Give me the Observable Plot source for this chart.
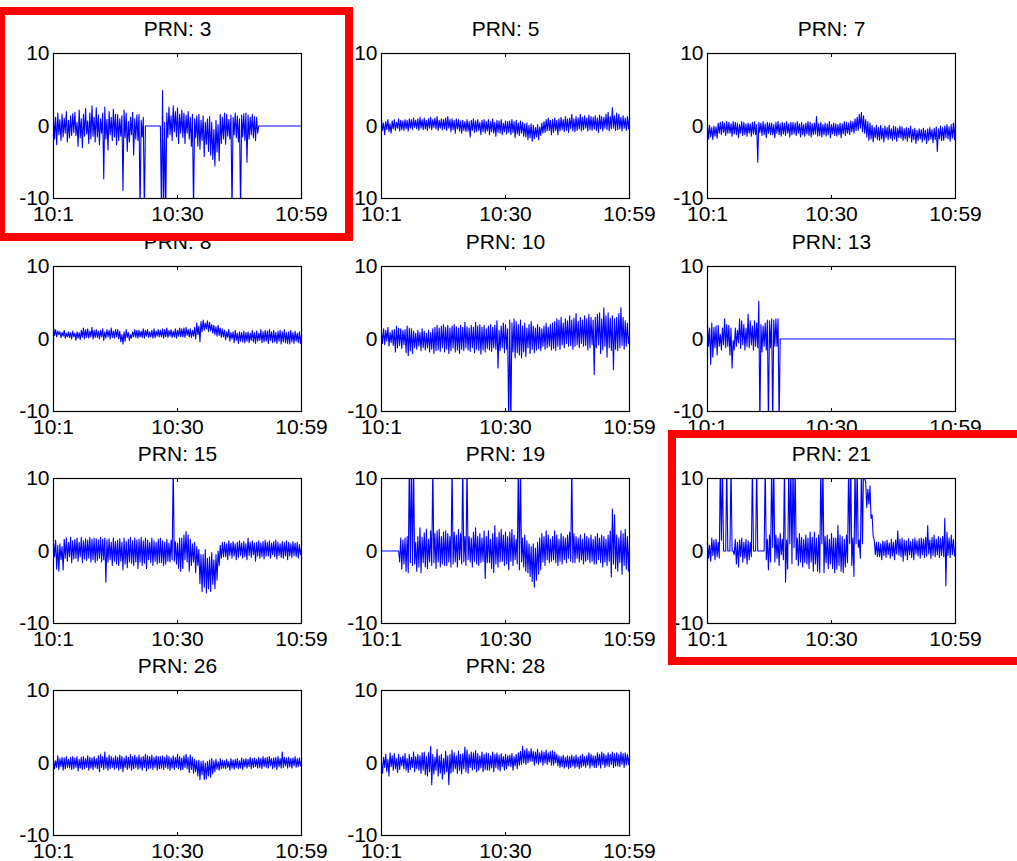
<!DOCTYPE html>
<html><head><meta charset="utf-8">
<script src="https://cdn.jsdelivr.net/npm/d3@7"></script>
<script src="https://cdn.jsdelivr.net/npm/@observablehq/plot@0.6"></script>
<style>
html,body{margin:0;padding:0;background:#fff;}
#page{position:relative;width:1017px;height:861px;overflow:hidden;background:#fff;font-family:"Liberation Sans",Arial,sans-serif;}
.panel{position:absolute;}
.hl{position:absolute;border:8.5px solid #ff0000;box-sizing:border-box;z-index:10;}
</style></head><body><div id="page"></div>
<script>
// ---- data ----
// Each panel: noise peaks (hi, at minute 1 + 0.5*i) and troughs (lo, at minute 1.25 + 0.5*i).
const prns = [3, 5, 7, 8, 10, 13, 15, 19, 21, 26, 28];
const highlighted = [3, 21];
const xTicks = [1, 30, 59];
const xTickLabels = ["10:1", "10:30", "10:59"];
const yTicks = [-10, 0, 10];
const hiStart = 1, loStart = 1.25, step = 0.5;

const prn3Hi = [
 1.5,1.2,1.8,0.9,1.6,1.1,2.0,0.8,1.4,1.7,
 1.9,0.5,2.2,1.0,1.6,2.4,0.7,1.8,2.8,1.2,
 2.5,1.5,1.0,1.8,2.6,0.9,2.0,1.2,2.3,1.6,
 1.6,1.0,1.4,2.2,1.8,0.6,1.2,1.9,1.0,1.5,
 1.6,0.8,1.2,0,0,0,0,0,0,0,
 0,4.9,0.5,1.8,2.6,1.4,2.8,2.0,2.5,1.6,
 2.2,1.8,1.5,2.0,1.2,1.6,1.0,1.4,1.6,0.8,
 1.4,0.5,1.0,1.3,0.5,-0.5,0.8,0.2,1.6,1.2,
 1.8,1.6,0.9,1.5,1.2,1.8,1.4,1.0,1.5,1.7,
 1.8,1.5,1.2,1.6,1.3,1.2,0,0,0,0,
 0,0,0,0,0,0,0,0,0,0,
 0,0,0,0,0,0,0];
const prn3Lo = [
 -1.8,-2.6,-1.2,-2.0,-1.5,-1.0,-2.2,-1.6,-1.3,-0.9,
 -1.3,-2.8,-1.6,-3.0,-1.4,-1.1,-2.4,-1.8,-1.4,-2.2,
 -1.5,-2.6,-1.0,-7.3,-1.8,-3.3,-1.2,-2.0,-1.5,-2.6,
 -2.0,-1.4,-8.9,-1.6,-3.5,-2.2,-1.2,-4.0,-1.8,-2.0,
 -12,-1.5,-12,0,0,0,0,0,0,0,
 -12,-12,-12,-1.6,-1.2,-2.0,-0.8,-1.5,-2.4,-1.0,
 -1.6,-2.4,-1.0,-1.8,-2.8,-12,-1.6,-2.8,-3.2,-2.0,
 -4.2,-2.5,-3.5,-4.0,-4.6,-5.5,-3.6,-4.8,-2.4,-1.8,
 -2.5,-1.4,-1.8,-12,-1.2,-1.6,-2.2,-12,-1.5,-2.0,
 -5.0,-1.8,-1.2,-1.6,-2.0,-1.0,0,0,0,0,
 0,0,0,0,0,0,0,0,0,0,
 0,0,0,0,0,0];

const prn5Hi = [
 0.8,0.4,0.6,0.9,0.3,0.7,0.9,0.5,1.0,0.8,
 0.7,0.9,0.8,1.0,0.9,1.1,0.8,1.0,1.2,0.9,
 1.1,0.8,1.0,1.2,0.9,1.1,1.3,0.8,1.0,0.9,
 1.1,1.3,0.9,1.0,0.8,1.0,0.9,0.7,0.8,0.6,
 0.9,0.6,0.8,1.0,0.7,0.9,0.5,0.8,0.9,0.6,
 0.9,0.6,1.0,0.5,0.8,0.7,0.9,0.4,0.7,0.6,
 0.7,0.9,0.6,0.8,0.4,0.7,0.5,0.3,0.4,0.1,
 0.3,0.1,-0.2,0.2,-0.1,0.4,0.6,0.9,1.1,0.8,
 0.9,1.1,0.8,1.0,1.2,0.9,1.3,1.0,1.1,1.6,
 1.0,1.3,1.1,1.6,1.2,1.4,1.1,1.5,1.3,1.2,
 1.4,1.1,1.5,1.3,1.2,1.6,1.9,1.3,2.5,1.4,
 1.8,1.6,1.2,1.4,1.1,1.3,1.2];
const prn5Lo = [
 -0.6,-1.2,-0.5,-0.8,-1.0,-0.4,-0.6,-0.3,-0.7,-0.5,
 -0.6,-0.4,-0.7,-0.3,-0.5,-0.2,-0.4,-0.6,-0.3,-0.5,
 -0.4,-0.6,-0.3,-0.5,-0.2,-0.4,-0.6,-0.3,-0.5,-0.4,
 -0.6,-0.3,-0.8,-0.5,-1.0,-0.4,-0.7,-1.0,-0.6,-0.8,
 -0.7,-1.5,-0.6,-0.9,-0.8,-0.6,-1.2,-0.8,-1.0,-0.7,
 -1.2,-0.8,-1.0,-1.4,-0.9,-1.0,-1.2,-0.8,-1.1,-0.9,
 -1.2,-0.9,-1.6,-1.1,-1.3,-1.0,-1.4,-1.5,-1.9,-1.6,
 -2.1,-1.8,-1.5,-1.9,-1.3,-1.0,-0.9,-0.7,-0.6,-1.2,
 -0.9,-0.6,-1.2,-0.7,-0.5,-0.8,-0.6,-0.9,-0.4,-0.7,
 -0.8,-0.6,-0.4,-0.7,-0.5,-0.3,-0.7,-0.5,-0.6,-0.4,
 -0.6,-0.9,-0.4,-0.7,-0.3,-0.5,-0.7,-0.4,-0.3,-0.6,
 -0.5,-0.4,-0.7,-0.3,-0.6,-0.4];

const prn7Hi = [
 0.2,0.1,-0.2,0.0,-0.1,0.4,0.5,0.6,0.4,0.6,
 0.5,0.3,0.6,0.5,0.4,0.2,0.6,0.5,0.3,0.4,
 0.3,0.5,0.6,0.2,0.5,0.4,0.6,0.3,0.5,0.4,
 0.4,0.2,0.5,0.6,0.3,0.5,0.4,0.6,0.3,0.5,
 0.5,0.4,0.6,0.3,0.5,0.2,0.4,0.6,0.5,0.3,
 0.4,1.3,0.3,0.5,0.2,0.4,0.3,0.6,0.2,0.4,
 0.3,0.2,0.4,0.3,0.6,0.5,0.4,0.7,0.6,1.0,
 1.2,1.6,1.9,1.4,0.9,0.6,0.4,0.1,-0.2,0.1,
 -0.2,0.1,-0.3,0.0,-0.2,0.1,-0.4,0.0,-0.1,-0.3,
 0.0,-0.1,-0.4,-0.2,-0.3,0.0,-0.5,-0.3,-0.6,-0.4,
 -0.5,-0.3,-0.6,-0.4,-0.2,-0.5,-0.3,-0.1,-0.4,0.0,
 -0.2,0.0,0.2,-0.1,0.2,0.4,0.8];
const prn7Lo = [
 -1.8,-1.5,-1.9,-1.4,-1.7,-1.0,-1.2,-0.9,-1.3,-1.0,
 -1.0,-1.4,-1.1,-1.2,-1.6,-1.0,-1.3,-1.2,-1.4,-1.0,
 -1.4,-1.1,-1.2,-5.0,-0.9,-1.3,-1.2,-1.6,-1.0,-1.2,
 -1.2,-1.6,-1.0,-1.2,-1.4,-1.1,-1.3,-1.0,-1.5,-1.2,
 -1.1,-1.3,-1.0,-1.5,-1.2,-1.4,-1.1,-1.3,-1.5,-1.2,
 -1.1,-1.4,-1.3,-1.5,-1.2,-1.4,-1.2,-1.6,-1.1,-1.3,
 -1.4,-1.2,-1.6,-1.1,-1.3,-1.0,-1.2,-0.8,-1.0,-0.6,
 -0.6,-0.3,-0.8,-1.0,-1.5,-2.0,-1.8,-2.2,-1.6,-1.9,
 -2.0,-1.8,-2.2,-1.6,-1.9,-1.7,-2.0,-1.8,-2.1,-1.6,
 -1.7,-2.0,-1.8,-2.1,-1.6,-2.2,-1.9,-2.4,-2.0,-1.8,
 -2.2,-1.9,-2.4,-2.0,-1.8,-2.3,-1.9,-3.5,-1.8,-2.0,
 -2.0,-1.6,-1.8,-2.1,-1.7,-1.9];

const prn8Hi = [
 1.6,1.3,1.1,1.0,0.9,1.2,0.8,1.0,0.9,1.1,
 0.8,1.0,0.9,1.2,1.5,1.3,1.4,1.1,1.6,1.2,
 1.3,1.1,1.2,1.4,1.0,1.3,1.2,1.5,1.1,1.3,
 1.3,1.1,0.6,1.0,1.3,0.9,0.6,1.0,1.3,1.2,
 1.2,1.1,1.4,1.2,1.3,1.0,1.2,1.4,1.1,1.3,
 1.2,1.4,1.3,1.5,1.2,1.3,1.1,1.4,1.2,1.5,
 1.4,1.5,1.6,1.3,1.4,1.2,1.6,2.2,1.8,2.4,
 2.6,2.2,2.5,2.3,2.0,1.9,1.7,1.9,1.5,1.4,
 1.2,1.0,1.3,0.9,1.0,1.2,0.8,1.0,0.9,1.1,
 0.9,1.0,0.8,1.2,0.9,1.1,0.8,1.3,1.0,1.2,
 1.1,1.3,1.0,1.2,0.9,1.1,1.2,1.0,1.3,0.9,
 1.0,1.2,0.9,1.1,0.8,1.0,0.6];
const prn8Lo = [
 0.5,0.3,0.6,0.2,0.4,0.1,0.3,0.2,0.0,0.3,
 -0.2,0.1,-0.1,0.2,0.0,0.2,0.1,0.3,0.0,0.2,
 0.2,0.0,0.3,-0.2,0.1,0.3,0.0,0.2,0.1,0.3,
 0.0,-0.4,-0.7,-0.3,0.2,-0.2,0.1,0.3,0.2,0.1,
 0.3,0.2,0.1,0.4,0.2,0.3,0.1,0.2,0.4,0.3,
 0.3,0.1,0.3,0.2,0.4,0.2,0.3,0.1,0.4,0.3,
 0.3,0.2,0.5,0.3,0.2,0.4,0.0,0.6,-0.4,1.0,
 1.2,1.4,1.0,1.1,0.8,0.6,0.4,0.5,0.2,0.3,
 -0.1,0.2,-0.3,0.0,-0.5,-0.2,-0.6,-0.3,-0.4,-0.5,
 -0.3,-0.5,-0.2,-0.4,-0.6,-0.3,-0.2,-0.5,-0.4,-0.3,
 -0.6,-0.2,-0.5,-0.4,-0.6,-0.3,-0.7,-0.4,-0.5,-0.6,
 -0.7,-0.4,-0.6,-0.3,-0.5,-0.6];

const prn10Hi = [
 1.0,1.4,1.2,1.6,0.9,1.2,1.3,1.8,1.5,1.4,
 1.2,1.3,1.8,1.5,1.4,1.1,0.8,1.2,0.9,1.4,
 1.1,0.8,1.2,0.9,1.4,1.6,1.9,1.5,1.8,2.0,
 1.6,1.9,1.5,1.8,2.0,1.7,1.5,1.9,1.6,2.3,
 1.7,1.5,1.9,1.6,2.3,1.8,2.0,1.6,1.9,1.4,
 1.8,2.0,1.6,1.9,2.5,1.2,1.8,2.2,2.0,1.4,
 2.6,2.2,2.8,2.4,2.0,2.6,1.8,2.2,1.5,2.0,
 2.4,1.8,1.5,2.0,1.6,1.4,1.8,2.2,1.6,2.0,
 2.2,2.4,2.8,2.6,3.0,2.2,2.8,2.5,3.2,2.6,
 2.9,3.5,2.4,3.0,2.6,3.2,2.8,3.4,3.0,2.6,
 3.0,3.4,3.6,2.8,4.3,3.2,3.6,2.9,3.2,2.8,
 3.0,3.5,4.3,3.0,2.5,2.2,0.5];
const prn10Lo = [
 -0.6,-0.8,-0.3,-1.0,-0.5,-0.9,-1.8,-1.2,-0.9,-1.3,
 -0.8,-1.9,-2.3,-1.6,-2.0,-1.2,-1.4,-1.0,-1.6,-1.2,
 -1.5,-1.2,-1.8,-1.4,-2.0,-1.6,-1.5,-1.7,-1.2,-1.8,
 -1.4,-2.0,-1.6,-1.2,-1.8,-1.5,-2.0,-1.4,-1.6,-1.2,
 -1.5,-1.7,-1.2,-1.9,-1.4,-1.6,-2.1,-1.5,-1.8,-1.3,
 -1.5,-1.7,-1.2,-1.4,-4.0,-1.6,-1.2,-1.9,-1.4,-12,
 -12,-1.8,-2.6,-1.9,-2.2,-2.6,-1.8,-2.4,-1.2,-2.0,
 -1.4,-1.9,-1.5,-1.3,-1.6,-1.0,-1.4,-1.2,-1.0,-1.5,
 -1.3,-1.6,-1.0,-1.4,-0.8,-1.2,-0.6,-1.0,-0.9,-1.4,
 -1.0,-0.8,-1.2,-0.6,-1.0,-0.9,-1.5,-1.2,-0.8,-4.9,
 -1.2,-0.8,-2.0,-1.5,-1.0,-2.5,-1.2,-1.6,-4.2,-1.4,
 -1.6,-1.2,-0.9,-1.4,-1.0,-0.6];

const prn13Hi = [
 2.0,1.5,2.2,1.6,1.8,1.9,0.6,1.5,2.8,2.0,
 1.9,1.5,-0.2,1.5,1.2,2.8,2.5,2.0,1.5,3.4,
 2.5,1.8,2.5,2.2,5.2,2.0,1.8,2.2,2.6,2.5,
 2.8,2.6,2.8,2.8,0,0,0,0,0,0,
 0,0,0,0,0,0,0,0,0,0,
 0,0,0,0,0,0,0,0,0,0,
 0,0,0,0,0,0,0,0,0,0,
 0,0,0,0,0,0,0,0,0,0,
 0,0,0,0,0,0,0,0,0,0,
 0,0,0,0,0,0,0,0,0,0,
 0,0,0,0,0,0,0,0,0,0,
 0,0,0,0,0,0,0];
const prn13Lo = [
 -1.0,-3.5,-2.5,-1.2,-2.2,-1.0,-1.5,-0.8,-1.2,-1.0,
 -2.2,-4.0,-1.5,-1.0,-0.5,-1.3,-0.8,-1.5,-1.0,-1.2,
 -0.8,-1.5,-1.0,-1.2,-12,-1.8,-1.0,-1.5,-12,-1.2,
 -12,-1.0,-1.0,-12,0,0,0,0,0,0,
 0,0,0,0,0,0,0,0,0,0,
 0,0,0,0,0,0,0,0,0,0,
 0,0,0,0,0,0,0,0,0,0,
 0,0,0,0,0,0,0,0,0,0,
 0,0,0,0,0,0,0,0,0,0,
 0,0,0,0,0,0,0,0,0,0,
 0,0,0,0,0,0,0,0,0,0,
 0,0,0,0,0,0];

const prn15Hi = [
 1.2,1.5,0.8,1.0,0.6,1.6,1.8,1.2,1.9,1.4,
 1.6,1.8,1.2,1.9,1.4,1.7,1.5,1.9,1.6,1.8,
 1.7,1.5,1.9,1.6,1.8,1.5,1.7,1.2,1.8,1.3,
 1.5,1.7,1.2,1.8,1.3,1.6,1.9,1.4,1.8,1.5,
 1.6,1.9,1.4,1.8,1.5,1.2,1.8,1.4,1.2,1.6,
 1.8,1.4,1.2,1.6,1.1,1.5,12,1.3,1.1,1.8,
 1.8,2.2,2.7,2.2,1.6,1.0,1.2,0.6,0.2,-0.5,
 -0.5,0.2,-1.0,-0.8,-0.2,-1.2,-0.5,0.0,0.8,1.2,
 1.2,1.0,1.4,1.1,1.3,1.0,1.2,1.4,1.1,1.3,
 1.0,1.8,1.2,1.4,1.1,1.2,1.4,1.1,1.3,1.5,
 1.2,1.4,1.1,1.3,1.5,1.2,1.0,1.3,1.2,1.4,
 1.2,1.0,1.3,1.1,1.2,0.9,0.4];
const prn15Lo = [
 -0.8,-2.5,-2.8,-1.2,-2.6,-1.0,-1.4,-0.8,-1.6,-1.1,
 -1.0,-1.4,-0.8,-1.6,-1.1,-1.3,-1.0,-1.5,-1.2,-1.6,
 -1.3,-1.0,-1.5,-1.2,-4.3,-1.5,-1.2,-2.0,-1.4,-1.8,
 -2.0,-1.4,-2.6,-1.8,-2.3,-1.5,-1.7,-2.0,-1.5,-2.4,
 -1.5,-2.0,-1.7,-2.4,-1.2,-1.6,-2.0,-1.4,-1.8,-1.6,
 -1.6,-2.0,-1.8,-1.4,-1.5,-1.2,-1.4,-1.8,-2.4,-2.8,
 -2.4,-1.2,-1.5,-2.8,-2.0,-1.5,-3.0,-2.0,-4.5,-5.6,
 -5.0,-5.8,-5.2,-5.6,-4.6,-5.2,-4.0,-2.0,-1.0,-0.8,
 -0.8,-1.2,-0.6,-1.0,-0.7,-1.2,-0.9,-0.6,-1.0,-0.8,
 -1.2,-0.6,-0.9,-0.5,-1.4,-0.7,-1.0,-0.8,-1.1,-0.7,
 -0.7,-1.0,-0.5,-0.8,-1.1,-0.6,-0.9,-1.0,-0.7,-1.2,
 -0.7,-0.9,-0.6,-0.8,-1.0,-0.5];

const prn19Hi = [
 0,0,0,0,0,0,0,0,0,1.8,
 1.5,1.8,2.0,12,12,12,1.2,2.0,3.2,1.9,
 2.5,3.0,1.6,2.8,12,2.4,2.8,3.0,2.0,2.6,
 2.8,2.4,2.0,12,2.6,2.2,3.0,2.4,12,2.0,
 12,2.0,1.8,2.6,3.2,2.0,2.4,1.8,2.8,2.0,
 2.8,1.6,2.4,3.5,1.9,2.6,3.0,2.2,2.6,2.0,
 2.6,3.0,2.2,1.6,12,12,1.8,2.2,1.4,1.0,
 0.6,1.0,0.4,1.2,1.8,2.4,2.0,2.8,2.2,1.6,
 2.0,2.8,2.2,1.6,2.4,2.0,1.8,2.2,2.6,12,
 2.4,2.0,1.8,2.2,1.6,2.4,2.0,1.8,2.2,1.6,
 2.0,2.4,1.8,2.2,2.0,1.6,2.2,2.8,5.8,5.0,
 2.2,1.8,2.8,2.4,3.0,2.0,1.5];
const prn19Lo = [
 0,0,0,0,0,0,0,0,-1.5,-2.5,
 -1.8,-2.8,-3.0,-1.6,-2.0,-1.8,-2.8,-2.2,-3.0,-1.6,
 -2.2,-2.4,-1.5,-2.0,-1.6,-2.4,-1.5,-2.2,-1.8,-2.0,
 -2.0,-1.5,-2.2,-1.8,-1.5,-2.2,-1.2,-1.8,-1.5,-2.0,
 -1.2,-1.5,-2.2,-1.4,-1.8,-2.0,-1.6,-1.4,-3.8,-1.6,
 -1.6,-2.4,-3.0,-1.8,-2.2,-1.5,-1.4,-2.0,-1.8,-2.6,
 -1.4,-2.0,-1.2,-1.8,-2.6,-1.5,-2.2,-2.8,-3.0,-3.5,
 -4.2,-5.0,-4.0,-3.2,-2.6,-1.5,-2.0,-1.2,-1.6,-1.4,
 -1.2,-1.6,-2.0,-1.4,-1.8,-1.2,-1.6,-1.0,-1.4,-1.6,
 -1.6,-1.0,-1.5,-1.2,-1.8,-1.4,-1.2,-1.6,-1.4,-1.8,
 -1.8,-1.2,-1.6,-2.2,-1.5,-2.0,-1.4,-3.6,-1.8,-2.4,
 -2.8,-1.6,-3.2,-2.0,-2.5,-2.8];

const prn21Hi = [
 1.2,0.8,1.8,1.5,1.6,1.2,12,12,0,12,
 0,12,0,1.6,1.2,1.5,1.8,1.2,1.6,1.4,
 1.2,12,0,12,0,0,0,12,1.6,2.2,
 12,12,2.2,1.8,2.4,1.6,12,1.5,12,12,
 12,12,1.8,2.4,1.9,1.6,2.2,1.8,2.6,1.9,
 2.6,1.8,2.2,12,12,2.0,2.2,1.6,2.4,1.8,
 1.8,3.5,2.2,2.0,1.6,2.2,12,12,1.8,12,
 12,1.5,12,12,9.5,8.5,9.0,5.0,1.5,1.2,
 1.2,1.0,1.4,1.3,1.5,1.1,1.6,1.2,1.5,2.8,
 1.6,1.8,1.5,1.4,1.7,1.3,1.6,1.8,1.4,1.7,
 1.8,1.6,1.9,3.5,1.5,1.9,2.2,1.6,2.0,1.8,
 2.0,4.5,2.6,1.8,2.2,1.6,0.5];
const prn21Lo = [
 -1.0,-1.4,-0.6,-1.2,-0.8,-1.0,1.5,0,0,0,
 0,0,-0.5,-1.8,-2.2,-0.8,-1.5,-1.0,-1.8,-1.2,
 -0.8,0,0,0,0,0,0,-1.2,-2.6,-1.5,
 0.5,-1.5,-1.0,-2.0,-0.5,-1.2,-4.3,-2.5,1.0,-1.8,
 0.5,-1.2,-2.0,-1.5,-2.2,-1.6,-1.8,-2.4,-1.5,-2.8,
 -1.8,-2.8,-3.0,1.0,-3.0,-1.6,-2.4,-1.8,-2.4,-3.0,
 -2.5,-2.0,-2.8,-3.0,-2.2,-1.6,1.0,-2.0,-3.5,1.0,
 0.5,-1.0,1.0,10.0,6.0,6.5,4.5,2.0,-0.5,-0.8,
 -0.8,-1.2,-0.6,-0.9,-0.5,-1.0,-0.7,-1.2,-0.4,-0.6,
 -0.8,-1.4,-0.6,-1.2,-0.5,-0.9,-1.2,-0.4,-0.7,-1.0,
 -0.5,-0.9,-0.7,-0.4,-1.0,-0.6,-0.8,-0.5,-0.9,-0.6,
 -0.8,-4.8,-0.6,-0.9,-0.5,-0.7];

const prn26Hi = [
 0.5,0.3,1.0,0.6,0.8,0.7,0.9,0.5,0.8,0.9,
 0.7,0.9,0.5,0.8,0.9,0.6,1.0,0.8,0.7,0.9,
 0.6,1.0,1.2,0.9,1.5,0.8,1.1,0.9,0.7,1.0,
 0.8,1.1,0.9,0.7,1.0,0.8,1.2,0.9,1.1,0.8,
 1.1,0.8,0.9,1.2,1.0,0.9,1.1,0.8,1.0,0.9,
 0.9,1.0,0.8,1.1,0.9,0.7,1.0,0.8,1.2,0.9,
 0.7,1.0,1.2,0.8,1.1,0.8,0.5,0.3,0.4,0.2,
 0.3,0.0,0.2,0.4,0.6,0.3,0.5,0.2,0.6,0.4,
 0.3,0.5,0.2,0.6,0.4,0.5,0.6,0.3,0.7,0.5,
 0.6,0.5,0.8,0.6,0.7,0.5,0.8,0.6,0.9,0.7,
 0.8,0.9,0.6,0.7,0.8,0.9,0.6,1.5,0.8,0.7,
 0.8,0.6,0.7,0.9,0.6,0.7,0.3];
const prn26Lo = [
 -0.8,-0.6,-0.9,-0.5,-1.0,-0.8,-0.6,-0.7,-0.9,-0.8,
 -0.6,-1.1,-0.7,-0.9,-0.8,-0.6,-1.0,-0.7,-0.9,-0.6,
 -0.8,-1.2,-0.6,-0.9,-0.7,-1.0,-0.8,-0.6,-0.9,-0.7,
 -1.0,-0.8,-1.2,-0.6,-0.9,-0.7,-1.0,-0.8,-0.6,-0.9,
 -0.7,-1.0,-0.6,-1.1,-0.8,-0.7,-0.9,-0.6,-1.0,-0.8,
 -0.7,-0.9,-0.6,-0.8,-1.0,-0.7,-0.9,-0.6,-0.8,-1.0,
 -0.9,-0.6,-0.8,-1.3,-0.9,-1.4,-1.2,-1.8,-2.3,-1.6,
 -2.3,-2.2,-1.8,-2.0,-1.5,-1.2,-0.9,-1.0,-0.8,-0.7,
 -0.8,-0.6,-1.0,-0.7,-0.9,-0.6,-0.8,-0.7,-0.9,-0.5,
 -0.7,-0.5,-0.8,-0.6,-0.5,-0.7,-0.6,-0.8,-0.5,-0.6,
 -0.7,-0.4,-0.8,-0.6,-0.9,-0.5,-0.7,-0.6,-0.4,-0.7,
 -0.5,-0.7,-0.4,-0.6,-0.5,-0.4];

const prn28Hi = [
 0.2,0.8,1.2,0.5,1.4,1.0,1.3,0.6,1.2,0.8,
 1.0,1.3,0.6,1.2,0.8,1.5,0.9,1.2,1.0,1.4,
 1.5,0.9,1.4,2.3,1.2,0.8,1.9,1.0,1.2,0.6,
 1.6,1.0,1.2,1.8,1.4,1.0,1.6,1.2,1.3,2.2,
 1.8,1.2,1.5,1.4,1.7,1.3,1.0,1.5,1.2,1.4,
 1.3,1.0,1.5,1.2,1.4,1.1,1.3,0.9,1.2,1.0,
 1.1,1.3,0.9,1.2,1.4,1.6,2.3,1.8,2.0,1.6,
 2.0,1.6,1.5,1.9,1.4,1.7,1.5,1.8,1.4,1.6,
 1.7,1.5,1.2,1.0,0.9,1.1,0.8,1.0,0.9,1.1,
 0.9,1.1,0.8,1.0,1.2,0.9,1.0,1.4,1.2,1.0,
 1.0,1.4,1.2,1.5,1.3,1.1,1.4,1.2,1.5,1.3,
 1.4,1.2,1.5,1.3,1.4,1.2,1.0];
const prn28Lo = [
 -1.4,-0.6,-1.2,-1.8,-0.5,-1.0,-0.8,-1.3,-0.9,-0.4,
 -0.8,-1.0,-1.3,-0.9,-0.6,-1.2,-0.8,-1.0,-1.4,-1.0,
 -1.6,-1.8,-1.2,-3.0,-1.5,-1.0,-1.8,-1.4,-2.2,-1.5,
 -1.2,-3.0,-1.4,-1.2,-0.8,-1.4,-1.0,-1.5,-0.8,-1.2,
 -1.4,-0.6,-1.0,-0.8,-1.2,-1.0,-0.7,-1.2,-0.9,-1.0,
 -1.0,-0.7,-1.2,-0.6,-0.9,-1.1,-0.5,-1.0,-0.8,-0.4,
 -0.5,-1.0,-0.4,-0.8,-0.3,-0.2,0.0,-0.2,0.0,0.2,
 0.2,-0.3,0.0,-0.2,0.1,-0.3,0.0,-0.2,0.1,-0.3,
 -0.3,0.0,-0.4,-0.6,-0.5,-0.7,-0.5,-0.8,-0.6,-0.4,
 -0.7,-0.5,-0.8,-0.6,-0.4,-0.6,-0.3,-0.7,-0.4,-0.6,
 -0.6,-0.3,-0.7,-0.2,-0.6,-0.4,-0.5,-0.2,-0.6,-0.4,
 -0.4,-0.5,-0.2,-0.6,-0.3,-0.2];

const seriesHi = [prn3Hi, prn5Hi, prn7Hi, prn8Hi, prn10Hi, prn13Hi, prn15Hi, prn19Hi, prn21Hi, prn26Hi, prn28Hi];
const seriesLo = [prn3Lo, prn5Lo, prn7Lo, prn8Lo, prn10Lo, prn13Lo, prn15Lo, prn19Lo, prn21Lo, prn26Lo, prn28Lo];

// ---- layout ----
const colLeft = [53, 381, 707], rowTop = [53, 266, 478, 690];
const frameW = 248, frameH = 145;
const mL = 60, mR = 40, mT = 40, mB = 40;
const FONT = '"Liberation Sans", Arial, Helvetica, sans-serif';
const FS = 21;
const page = document.getElementById("page");

prns.forEach((prn, k) => {
  const col = k % 3, row = Math.floor(k / 3);
  const hi = seriesHi[k], lo = seriesLo[k];
  const data = [];
  hi.forEach((v, i) => {
    data.push({t: hiStart + i * step, v});
    if (i < lo.length) data.push({t: loStart + i * step, v: lo[i]});
  });
  const chart = Plot.plot({
    width: mL + frameW + mR, height: mT + frameH + mB,
    marginLeft: mL, marginRight: mR, marginTop: mT, marginBottom: mB,
    style: {background: "transparent", overflow: "visible", fontFamily: FONT, fontSize: FS + "px", color: "#000"},
    x: {domain: [xTicks[0], xTicks[xTicks.length - 1]]},
    y: {domain: [yTicks[0], yTicks[yTicks.length - 1]]},
    marks: [
      Plot.line(data, {x: "t", y: "v", stroke: "#0000ff", strokeWidth: 1.1, clip: true}),
      Plot.frame({stroke: "#000", strokeWidth: 1.2}),
      Plot.axisX(xTicks, {anchor: "bottom", tickSize: -3, tickPadding: 11, tickFormat: d => xTickLabels[xTicks.indexOf(d)], fontSize: FS, fill: "#000", stroke: "#000", label: null}),
      Plot.axisX(xTicks, {anchor: "top", tickSize: -3, tickFormat: () => "", stroke: "#000", label: null}),
      Plot.axisY(yTicks, {anchor: "left", tickSize: 0, tickPadding: 4, tickFormat: d => String(d), fontSize: FS, fill: "#000", label: null}),
      Plot.text([`PRN: ${prn}`], {frameAnchor: "top", dy: -18, lineAnchor: "bottom", fontSize: FS, fill: "#000"})
    ]
  });
  const div = document.createElement("div");
  div.className = "panel";
  div.style.left = (colLeft[col] - mL) + "px";
  div.style.top = (rowTop[row] - mT) + "px";
  div.appendChild(chart);
  page.appendChild(div);
});

// ---- red highlight boxes (annotation) ----
const boxes = {3: {left: -3, top: 7, width: 356, height: 234}, 21: {left: 668, top: 430, width: 360, height: 235}};
highlighted.forEach(p => {
  const b = boxes[p];
  const d = document.createElement("div");
  d.className = "hl";
  Object.assign(d.style, {left: b.left + "px", top: b.top + "px", width: b.width + "px", height: b.height + "px"});
  page.appendChild(d);
});
</script></body></html>
